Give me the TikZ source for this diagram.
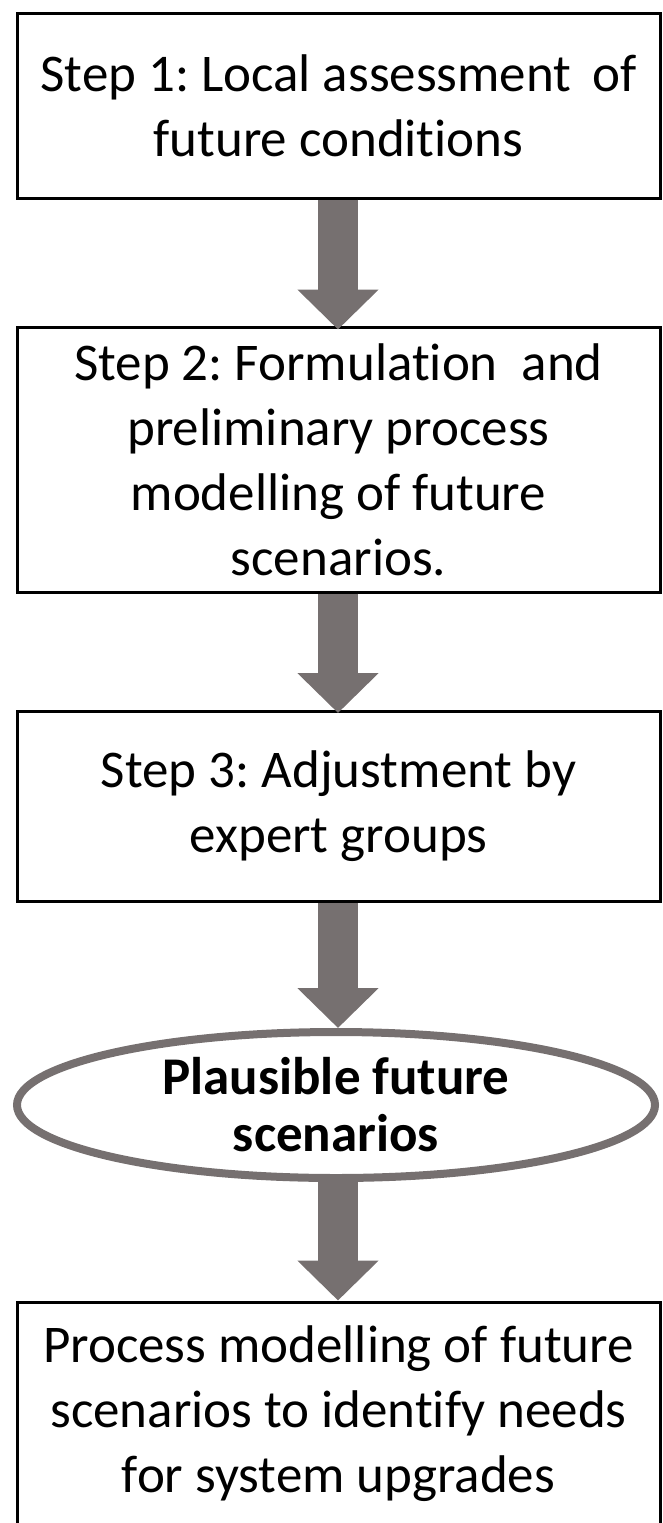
\documentclass[tikz,border=0pt]{standalone}
\usepackage{fontspec}
\setmainfont{Carlito}[Ligatures={NoCommon,NoRequired,NoContextual},
  Contextuals=NoAlternate,RawFeature={-calt;-dlig}]
\usetikzlibrary{shapes.geometric,arrows.meta}
\definecolor{arrowgray}{RGB}{118,112,112}
\tikzset{
  stepbox/.style={draw=black,line width=3pt,rectangle,minimum width=643pt,
    inner sep=0pt,align=center,font=\fontsize{53}{65}\selectfont\frenchspacing},
  resultoval/.style={draw=arrowgray,line width=8pt,ellipse,minimum width=638pt,
    minimum height=146pt,inner sep=0pt,align=center,
    font=\fontsize{53}{57}\selectfont\bfseries},
  bigarrow/.style={draw=arrowgray,line width=40pt,
    -{Triangle[width=79pt,length=40pt]}}
}
\begin{document}
\begin{tikzpicture}[x=1pt,y=-1pt]
      \useasboundingbox (0,0) rectangle (663,1523);
      \draw
        (338.5,105.5) node[stepbox,minimum height=185pt] (s1)
          {Step 1: Local assessment\, of\\future conditions}
        (338.5,459.5) node[stepbox,minimum height=265pt] (s2)
          {Step 2: Formulation~ and\\preliminary process\\modelling of future\\scenarios.}
        (338.5,806.5) node[stepbox,minimum height=190pt] (s3)
          {Step 3: Adjustment by\\expert groups}
        (336,1105) node[resultoval] (plaus)
          {Plausible future\\scenarios}
        (338.5,1414) node[stepbox,minimum height=224pt] (proc)
          {Process modelling of future\\scenarios to identify needs\\for system upgrades};
      \begin{scope}[bigarrow]
        \draw ([xshift=-0.5pt]s1.south) to ([xshift=-0.5pt,yshift=-4pt]s2.north);
        \draw ([xshift=-0.5pt]s2.south) to ([xshift=-0.5pt,yshift=-3pt]s3.north);
        \draw ([xshift=-0.5pt]s3.south) to ([xshift=2pt]plaus.north);
        \draw ([xshift=2pt]plaus.south) to ([xshift=-0.5pt]proc.north);
      \end{scope}
    \end{tikzpicture}
\end{document}
